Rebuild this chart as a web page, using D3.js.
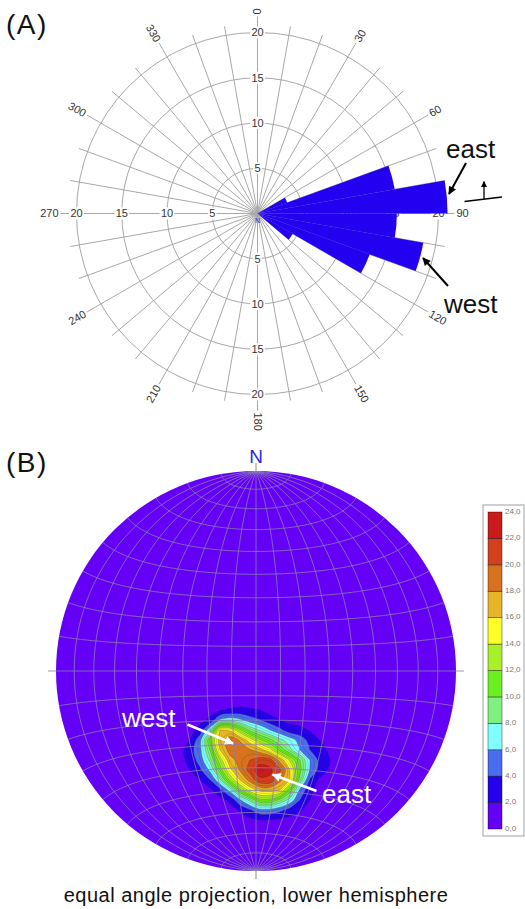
<!DOCTYPE html>
<html><head><meta charset="utf-8">
<script src="https://cdn.jsdelivr.net/npm/d3@7/dist/d3.min.js"></script>
<style>
html,body{margin:0;padding:0;background:#fff;}
svg{display:block;font-family:"Liberation Sans",Arial,Helvetica,sans-serif;}
</style></head><body>
<svg id="chart" width="525" height="909"></svg>
<script>
// ---------------- DATA: (A) rose diagram ----------------
const roseBinStart = [60, 70, 80, 90, 100, 110, 120];      // bin start azimuth (deg)
const roseBinWidth = 10;
const roseValues   = [3.5, 15.4, 21.0, 15.4, 18.6, 13.2, 4.5];
const radialTicks  = [5, 10, 15, 20];
const angleTicks   = [0, 30, 60, 90, 120, 150, 180, 210, 240, 270, 300, 330];
const spokeAngles  = d3.range(0, 360, 10);

// ---------------- DATA: (B) density contours ----------------
const densityLevels = [0, 2, 4, 6, 8, 10, 12, 14, 16, 18, 20, 22, 24];
const densityColors = ["#6400f6", "#2400ee", "#4a6cf0", "#80ffff", "#80f080", "#6af020",
                       "#aaf028", "#ffff28", "#e8b428", "#d8721e", "#d4401e", "#cc1a1a"];
const densityCols = 18, densityRows = 14;
const densityGrid = [
  [0,0,0,0,0.1,0.4,0.6,0.8,0.7,0.5,0.3,0.1,0,0,0,0,0,0],
  [0,0,0.2,0.6,1.2,1.8,2.3,2.5,2.3,2.0,1.2,0.7,0.4,0.2,0.1,0,0,0],
  [0,0.2,0.6,1.4,2.5,6.2,7.0,6.4,5.0,4.1,2.9,2.0,1.4,1.1,0.6,0.3,0.1,0],
  [0.2,0.5,1.2,2.7,7.3,16,15.6,12.4,9.5,7.7,6.0,4.5,2.9,2.6,1.8,0.9,0.4,0.1],
  [0.3,0.7,2.0,5.4,11.4,17,19.2,17.8,15,12.2,10.5,8.5,7.0,5.2,3.3,1.9,0.7,0.2],
  [0.3,1.2,3.2,5.5,10,16,18.8,18.9,18.2,17,14.7,11.3,8.5,6.0,4.0,2.8,1.6,0.5],
  [0.3,1.2,2.8,4.9,8.5,13,17.3,18.7,20,21,20.8,17.3,13.6,10,6,3.4,2.0,0.6],
  [0.1,0.6,2.0,3.7,6.4,11,15.5,18.2,20.8,23.3,22.5,20.3,16,10.5,5.8,3.3,1.6,0.5],
  [0,0.2,0.8,2.0,4.0,7.6,12.5,16,18.7,21.5,21.5,18.4,16,9.3,3.8,1.5,0.6,0.2],
  [0,0,0.2,0.7,1.6,3.5,6.8,11.5,14.9,16.6,16.8,16,10.9,5.6,2.7,0.8,0.2,0],
  [0,0,0,0.2,0.5,1.2,2.5,5.8,8.6,11.5,11.5,9.5,7.3,4,2.0,0.6,0.1,0],
  [0,0,0,0,0.1,0.5,1.2,2.3,3.8,5.5,5.5,4.6,3.2,2.3,1.0,0.3,0,0],
  [0,0,0,0,0,0.2,0.6,1.0,1.5,2.0,1.9,1.6,1.3,0.9,0.4,0.1,0,0],
  [0,0,0,0,0,0,0.1,0.3,0.5,0.7,0.7,0.6,0.4,0.2,0.1,0,0,0]
];

// ---------------- drawing ----------------
const svg = d3.select('#chart');
const defs = svg.append('defs');
function marker(id, color, w, h) {
  defs.append('marker').attr('id', id).attr('viewBox', '0 0 10 10')
    .attr('refX', 9).attr('refY', 5).attr('markerUnits', 'userSpaceOnUse')
    .attr('markerWidth', w).attr('markerHeight', h).attr('orient', 'auto')
    .append('path').attr('d', 'M0,0 L10,5 L0,10 Z').attr('fill', color);
}
marker('headBlack', '#000', 10, 8);
marker('headWhite', '#fff', 11, 9);
marker('headSmall', '#000', 7, 6);

// ===== Panel A =====
const A = { cx: 257.5, cy: 213.5 };
const r = d3.scaleLinear().domain([0, 20]).range([0, 181]);
const toXY = (az, rr) => [rr * Math.sin(az * Math.PI / 180), -rr * Math.cos(az * Math.PI / 180)];
const gA = svg.append('g').attr('transform', `translate(${A.cx},${A.cy})`);

gA.selectAll('circle.ring').data(radialTicks).join('circle')
  .attr('r', d => r(d)).attr('fill', 'none').attr('stroke', '#a8a8a8').attr('stroke-width', 1);

gA.selectAll('line.spoke').data(spokeAngles).join('line')
  .attr('x1', 0).attr('y1', 0)
  .attr('x2', d => toXY(d, angleTicks.includes(d) ? 197 : 190)[0])
  .attr('y2', d => toXY(d, angleTicks.includes(d) ? 197 : 190)[1])
  .attr('stroke', '#a8a8a8').attr('stroke-width', 1);

// angle labels
angleTicks.forEach(a => {
  const [x, y] = toXY(a, 199);
  const rot = a <= 180 ? a - 90 : a - 270;
  gA.append('text').attr('transform', `translate(${x},${y}) rotate(${rot})`)
    .attr('text-anchor', a <= 180 ? 'start' : 'end').attr('dy', '0.35em')
    .attr('font-size', 11).attr('fill', '#333').text(a);
});

// radial labels along the four axes
[0, 90, 180, 270].forEach(az => {
  radialTicks.forEach(t => {
    const [x, y] = toXY(az, r(t));
    const w = String(t).length * 6.4 + 2;
    gA.append('rect').attr('x', x - w / 2).attr('y', y - 6).attr('width', w).attr('height', 12).attr('fill', '#fff');
    gA.append('text').attr('x', x).attr('y', y).attr('dy', '0.36em').attr('text-anchor', 'middle')
      .attr('font-size', 11).attr('fill', '#333').text(t);
  });
});

// bars
const roseData = roseBinStart.map((a, i) => ({ a, v: roseValues[i] }));
const arc = d3.arc().innerRadius(0).outerRadius(d => r(d.v))
  .startAngle(d => d.a * Math.PI / 180).endAngle(d => (d.a + roseBinWidth) * Math.PI / 180);
const clip = defs.append('clipPath').attr('id', 'barClip');
clip.selectAll('path').data(roseData).join('path').attr('d', arc).attr('transform', `translate(${A.cx},${A.cy})`);
gA.selectAll('path.bar').data(roseData).join('path').attr('d', arc).attr('fill', '#2400f0');
svg.append('g').attr('clip-path', 'url(#barClip)')
  .attr('transform', `translate(${A.cx},${A.cy})`)
  .selectAll('line').data(spokeAngles).join('line')
  .attr('x1', 0).attr('y1', 0)
  .attr('x2', d => toXY(d, 197)[0]).attr('y2', d => toXY(d, 197)[1])
  .attr('stroke', '#9a94d6').attr('stroke-width', 1);

gA.append('text').attr('x', 0).attr('y', 9).attr('text-anchor', 'middle')
  .attr('font-size', 7).attr('fill', '#2a2ad0').text('N');

// annotations A
svg.append('text').attr('x', 6).attr('y', 34).attr('font-size', 28).attr('letter-spacing', 1.5).attr('fill', '#111').text('(A)');
svg.append('text').attr('x', 446).attr('y', 158).attr('font-size', 26).attr('fill', '#111').text('east');
svg.append('text').attr('x', 444).attr('y', 313).attr('font-size', 26).attr('fill', '#111').text('west');
svg.append('line').attr('x1', 466).attr('y1', 163).attr('x2', 449).attr('y2', 194)
  .attr('stroke', '#000').attr('stroke-width', 2).attr('marker-end', 'url(#headBlack)');
svg.append('line').attr('x1', 448).attr('y1', 286).attr('x2', 423).attr('y2', 258)
  .attr('stroke', '#000').attr('stroke-width', 2).attr('marker-end', 'url(#headBlack)');
svg.append('line').attr('x1', 464.5).attr('y1', 201.5).attr('x2', 502).attr('y2', 197)
  .attr('stroke', '#000').attr('stroke-width', 1.6);
svg.append('line').attr('x1', 484).attr('y1', 199).attr('x2', 484).attr('y2', 181.5)
  .attr('stroke', '#000').attr('stroke-width', 1.3).attr('marker-end', 'url(#headSmall)');

// ===== Panel B =====
const B = { cx: 256, cy: 671, R: 200 };
const proj = d3.geoAzimuthalEqualArea().scale(B.R / Math.SQRT2).translate([B.cx, B.cy])
  .clipAngle(90).precision(0.1);
const geo = d3.geoPath(proj);

svg.append('line').attr('x1', B.cx - B.R - 8).attr('x2', B.cx + B.R + 8).attr('y1', B.cy).attr('y2', B.cy)
  .attr('stroke', '#a0a0a0').attr('stroke-width', 1.2);
svg.append('line').attr('x1', B.cx).attr('x2', B.cx).attr('y1', B.cy - B.R - 8).attr('y2', B.cy + B.R + 8)
  .attr('stroke', '#a0a0a0').attr('stroke-width', 1.2);

defs.append('clipPath').attr('id', 'netClip').append('circle')
  .attr('cx', B.cx).attr('cy', B.cy).attr('r', B.R);
svg.append('circle').attr('cx', B.cx).attr('cy', B.cy).attr('r', B.R).attr('fill', densityColors[0]);

// density contours (grid cell = 10px, first cell centre at 170,700)
const flat = densityGrid.flat();
const cellToPx = ([gx, gy]) => [165 + 10 * gx, 695 + 10 * gy];
const smoothLine = d3.line().curve(d3.curveCatmullRomClosed.alpha(0.5));
function ringsPath(mp) {
  return mp.coordinates.map(poly => poly.map(ring => smoothLine(ring.slice(0, -1).map(cellToPx))).join('')).join('');
}
const gC = svg.append('g').attr('clip-path', 'url(#netClip)');
const bands = d3.contours().size([densityCols, densityRows]).thresholds(densityLevels.slice(1, -1))(flat);
gC.selectAll('path.band').data(bands).join('path')
  .attr('d', ringsPath).attr('fill-rule', 'evenodd')
  .attr('fill', d => densityColors[densityLevels.indexOf(d.value)]);
const lines = d3.contours().size([densityCols, densityRows]).thresholds(d3.range(2, 24, 1))(flat);
gC.selectAll('path.iso').data(lines).join('path')
  .attr('d', ringsPath).attr('fill', 'none')
  .attr('stroke', d => d.value % 2 === 0 ? 'rgba(40,40,20,0.45)' : 'rgba(40,60,20,0.35)')
  .attr('stroke-width', 0.6);

// graticule (10 degree net)
const graticule = d3.geoGraticule().extentMinor([[-180, -90], [180, 90]]).extentMajor([[-180, -90], [180, 90]]).step([10, 10]);
svg.append('path').datum(graticule()).attr('d', geo).attr('fill', 'none')
  .attr('stroke', '#8c7cb4').attr('stroke-width', 0.8).attr('clip-path', 'url(#netClip)');

svg.append('text').attr('x', B.cx).attr('y', 463).attr('text-anchor', 'middle')
  .attr('font-size', 19).attr('fill', '#2a2ad8').text('N');
svg.append('text').attr('x', 6).attr('y', 472).attr('font-size', 28).attr('letter-spacing', 1.5).attr('fill', '#111').text('(B)');

// annotations B
svg.append('line').attr('x1', 187.5).attr('y1', 724.5).attr('x2', 233).attr('y2', 743.5)
  .attr('stroke', '#fff').attr('stroke-width', 2.5).attr('marker-end', 'url(#headWhite)');
svg.append('line').attr('x1', 316.5).attr('y1', 791).attr('x2', 272.5).attr('y2', 774.5)
  .attr('stroke', '#fff').attr('stroke-width', 2.5).attr('marker-end', 'url(#headWhite)');
svg.append('text').attr('x', 122).attr('y', 727).attr('font-size', 26).attr('fill', '#fff').text('west');
svg.append('text').attr('x', 322).attr('y', 803).attr('font-size', 26).attr('fill', '#fff').text('east');

svg.append('text').attr('x', B.cx).attr('y', 902).attr('text-anchor', 'middle')
  .attr('font-size', 20).attr('letter-spacing', 0.5).attr('fill', '#111').text('equal angle projection, lower hemisphere');

// legend
const ly = d3.scaleLinear().domain([0, 24]).range([829, 512]);
svg.append('rect').attr('x', 483).attr('y', 505).attr('width', 41).attr('height', 331)
  .attr('fill', '#fff').attr('stroke', '#a0a0a0').attr('stroke-width', 1);
const legData = densityColors.map((c, i) => ({ c, lo: densityLevels[i], hi: densityLevels[i + 1] }));
svg.selectAll('rect.leg').data(legData).join('rect')
  .attr('x', 488).attr('width', 14)
  .attr('y', d => ly(d.hi)).attr('height', d => ly(d.lo) - ly(d.hi))
  .attr('fill', d => d.c).attr('stroke', 'rgba(0,0,0,0.55)').attr('stroke-width', 0.7);
svg.selectAll('text.leg').data(densityLevels).join('text')
  .attr('x', 505).attr('y', d => ly(d) - 1).attr('dy', '0.35em')
  .attr('font-size', 8).attr('fill', '#777').text(d => d.toFixed(1).replace('.', ','));
</script>
</body></html>
